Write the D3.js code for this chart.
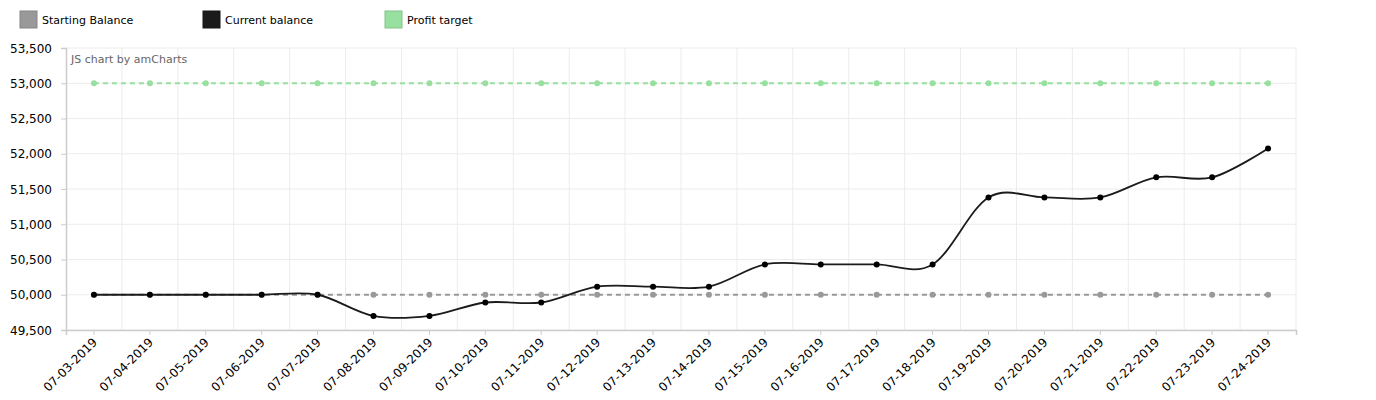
<!DOCTYPE html>
<html>
<head>
<meta charset="utf-8">
<script src="https://cdn.jsdelivr.net/npm/d3@7"></script>
<style>
  body { margin: 0; background: #fff; }
  svg { font-family: Verdana, "DejaVu Sans", sans-serif; }
</style>
</head>
<body>
<div id="chart"></div>
<script>
// chart data
const dates = ["07-03-2019", "07-04-2019", "07-05-2019", "07-06-2019", "07-07-2019", "07-08-2019",
  "07-09-2019", "07-10-2019", "07-11-2019", "07-12-2019", "07-13-2019", "07-14-2019",
  "07-15-2019", "07-16-2019", "07-17-2019", "07-18-2019", "07-19-2019", "07-20-2019",
  "07-21-2019", "07-22-2019", "07-23-2019", "07-24-2019"];
const startingBalance = dates.map(() => 50000);
const currentBalance = [50000, 50000, 50000, 50000, 50000, 49700, 49700, 49890, 49890, 50115, 50115, 50115,
  50430, 50430, 50430, 50430, 51380, 51380, 51380, 51665, 51665, 52075];
const profitTarget = dates.map(() => 53000);
const yTicks = [49500, 50000, 50500, 51000, 51500, 52000, 52500, 53000, 53500];

const seriesNames = ["Starting Balance", "Current balance", "Profit target"];
const seriesColors = ["#999999", "#1b1b1b", "#98e0a0"];

const width = 1376, height = 400;
const margin = {top: 48, right: 80, bottom: 70, left: 66};

const svg = d3.select("#chart").append("svg")
    .attr("width", width)
    .attr("height", height);

const x = d3.scaleBand()
    .domain(dates)
    .range([margin.left, width - margin.right]);
const y = d3.scaleLinear()
    .domain([49500, 53500])
    .range([height - margin.bottom, margin.top]);
const cx = d => x(d) + x.bandwidth() / 2;

// grid
svg.append("g").selectAll("line")
    .data(yTicks)
    .enter().append("line")
    .attr("x1", margin.left).attr("x2", width - margin.right)
    .attr("y1", d => y(d)).attr("y2", d => y(d))
    .attr("stroke", "#ececec");
svg.append("g").selectAll("line")
    .data(dates.slice(1).concat([null]))
    .enter().append("line")
    .attr("x1", d => d ? x(d) : width - margin.right)
    .attr("x2", d => d ? x(d) : width - margin.right)
    .attr("y1", margin.top).attr("y2", height - margin.bottom)
    .attr("stroke", "#ececec");

// axes
const yAxis = svg.append("g")
    .attr("transform", `translate(${margin.left},0)`)
    .call(d3.axisLeft(y).tickValues(yTicks).tickFormat(d3.format(",")).tickSize(5).tickPadding(9));
const xAxis = svg.append("g")
    .attr("transform", `translate(0,${height - margin.bottom})`)
    .call(d3.axisBottom(x).tickSize(5).tickPadding(6));
[yAxis, xAxis].forEach(g => {
    g.select(".domain").attr("stroke", "#cccccc").attr("stroke-width", 1.5);
    g.selectAll(".tick line").attr("stroke", "#cccccc");
    g.selectAll("text").attr("fill", "#000").style("font-size", "12px")
        .style("font-family", "Verdana, 'DejaVu Sans', sans-serif");
});
yAxis.selectAll("text").attr("dy", "0.35em");
xAxis.selectAll("text")
    .attr("x", 0).attr("y", 0)
    .attr("text-anchor", "end")
    .attr("dy", "0.35em")
    .attr("transform", "translate(1,10) rotate(-45)");

// credit text
svg.append("text")
    .attr("x", margin.left + 5).attr("y", margin.top + 15)
    .attr("fill", "#666").style("font-size", "11px")
    .text("JS chart by amCharts");

// lines
const flat = d3.line()
    .x((d, i) => cx(dates[i]))
    .y(d => y(d));
const smooth = d3.line()
    .x((d, i) => cx(dates[i]))
    .y(d => y(d))
    .curve(d3.curveCardinal.tension(0));

const series = [
    {values: startingBalance, color: seriesColors[0], dashed: true},
    {values: profitTarget, color: seriesColors[2], dashed: true},
    {values: currentBalance, color: seriesColors[1], dashed: false}
];

series.forEach(s => {
    svg.append("path")
        .datum(s.values)
        .attr("d", s.dashed ? flat : smooth)
        .attr("fill", "none")
        .attr("stroke", s.color)
        .attr("stroke-width", s.dashed ? 2 : 1.8)
        .attr("stroke-dasharray", s.dashed ? "5,4" : null);
    svg.append("g").selectAll("circle")
        .data(s.values)
        .enter().append("circle")
        .attr("cx", (d, i) => cx(dates[i]))
        .attr("cy", d => y(d))
        .attr("r", 3)
        .attr("fill", s.color === "#1b1b1b" ? "#000" : s.color);
});

// legend
const legendX = [20, 203, 385];
const legend = svg.append("g").selectAll("g")
    .data(seriesNames)
    .enter().append("g")
    .attr("transform", (d, i) => `translate(${legendX[i]},11)`);
legend.append("rect")
    .attr("width", 17).attr("height", 17)
    .attr("fill", (d, i) => seriesColors[i])
    .attr("stroke", (d, i) => d3.color(seriesColors[i]).darker(0.4))
    .attr("stroke-width", 1);
legend.append("text")
    .attr("x", 22).attr("y", 9)
    .attr("dy", "0.35em")
    .style("font-size", "11px")
    .attr("fill", "#000")
    .text(d => d);
</script>
</body>
</html>
